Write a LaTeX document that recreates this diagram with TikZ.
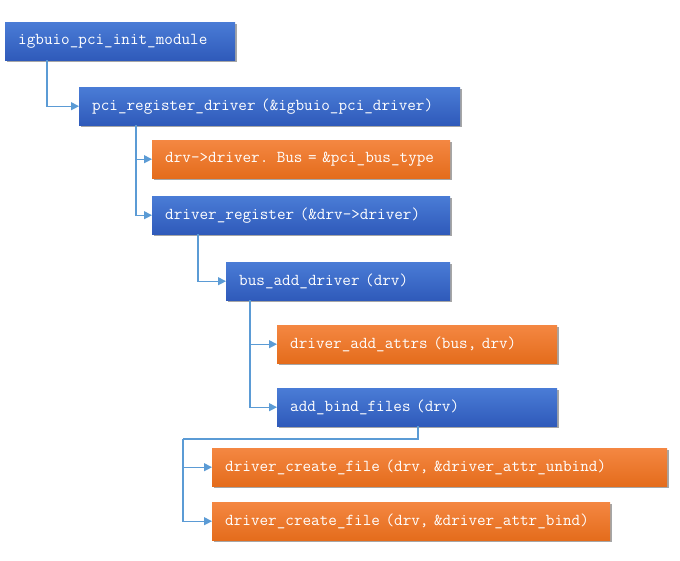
\documentclass[tikz,border=0pt]{standalone}
\usepackage{fontspec}
\usetikzlibrary{arrows.meta,shadows}
\definecolor{boxblueT}{RGB}{74,124,214}
\definecolor{boxblueB}{RGB}{47,90,186}
\definecolor{boxorangeT}{RGB}{244,135,66}
\definecolor{boxorangeB}{RGB}{228,108,28}
\definecolor{linkblue}{RGB}{91,155,213}
\tikzset{
	fnbox/.style={anchor=north west,minimum height=38pt,inner xsep=13pt,inner ysep=0pt,
		text width=#1,align=left,text=white,font=\ttfamily\fontsize{16.7}{19}\selectfont,
		drop shadow={shadow xshift=2pt,shadow yshift=-2pt,fill=black,opacity=0.35}},
	bluebox/.style={fnbox=#1,top color=boxblueT,bottom color=boxblueB},
	orangebox/.style={fnbox=#1,top color=boxorangeT,bottom color=boxorangeB},
	link/.style={draw=linkblue,line width=1.2pt,-{Triangle[width=8pt,length=8pt]}}
}
\begin{document}
	\begin{tikzpicture}[x=1pt,y=-1pt]
		\useasboundingbox (0,0) rectangle (680,560);
		\node[bluebox=204pt] (init) at (5,22) {igbuio\_pci\_init\_module};
		\node[bluebox=355pt] (reg) at (79,87) {pci\_register\_driver (\&igbuio\_pci\_driver)};
		\node[orangebox=272pt] (setbus) at (152,140) {drv->driver. Bus = \&pci\_bus\_type};
		\node[bluebox=272pt] (drvreg) at (152,196) {driver\_register (\&drv->driver)};
		\node[bluebox=198pt] (busadd) at (226,262) {bus\_add\_driver (drv)};
		\node[orangebox=254pt] (attrs) at (277,325) {driver\_add\_attrs (bus, drv)};
		\node[bluebox=254pt] (bind) at (277,388) {add\_bind\_files (drv)};
		\node[orangebox=429pt] (unbindf) at (212,448) {driver\_create\_file (drv, \&driver\_attr\_unbind)};
		\node[orangebox=372pt] (bindf) at (212,502) {driver\_create\_file (drv, \&driver\_attr\_bind)};
		% connectors
		\draw[link] ([xshift=42pt]init.south west) |- (reg.west);
		\draw[link] ([xshift=57pt]reg.south west) |- (setbus.west);
		\draw[link] ([xshift=57pt]reg.south west) |- (drvreg.west);
		\draw[link] ([xshift=46pt]drvreg.south west) |- (busadd.west);
		\draw[link] ([xshift=24pt]busadd.south west) |- (attrs.west);
		\draw[link] ([xshift=24pt]busadd.south west) |- (bind.west);
		\coordinate (turn) at (183,439);
		\draw[link,-] ([xshift=141pt]bind.south west) |- (turn);
		\draw[link] (turn) |- (unbindf.west);
		\draw[link] (turn) |- (bindf.west);
	\end{tikzpicture}
\end{document}
